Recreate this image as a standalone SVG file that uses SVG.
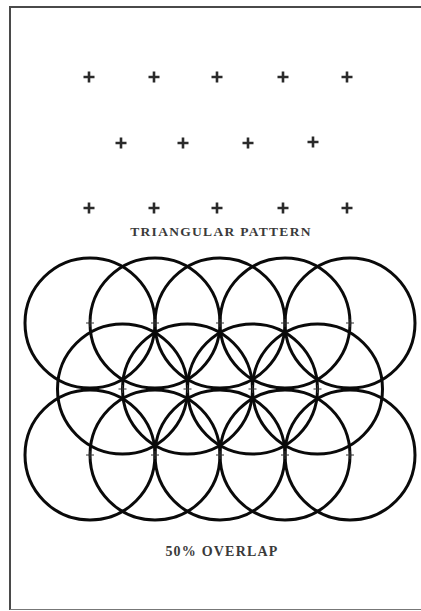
<svg xmlns="http://www.w3.org/2000/svg" width="421" height="611" viewBox="0 0 421 611">
<defs>
<style>
.frame{fill:none;stroke:#4a4a4a;stroke-width:2}
.plus{stroke:#2a2a2a;stroke-width:2.6;fill:none}
.mark{stroke:#333;stroke-width:1;fill:none}
.ring{fill:none;stroke:#0a0a0a;stroke-width:3}
.lbl{font-family:"Liberation Serif","Times New Roman",serif;font-weight:bold;fill:#3a3a3a;text-anchor:middle}
</style>
<path id="p" d="M-5.5 0H5.5M0 -5.5V5.5"/>
<path id="m" d="M-4 0H4M0 -4V4"/>
</defs>
<rect width="421" height="611" fill="#fff"/>
<g id="frame">
<path class="frame" d="M10 610V7H421"/>
<path d="M10 609.5H421" stroke="#777" stroke-width="1.2" fill="none"/>
</g>
<g id="triangular-pattern" class="plus">
<use href="#p" x="89" y="77"/><use href="#p" x="154" y="77"/><use href="#p" x="217" y="77"/><use href="#p" x="283" y="77"/><use href="#p" x="347" y="77"/>
<use href="#p" x="121" y="143"/><use href="#p" x="183" y="143"/><use href="#p" x="248" y="143"/><use href="#p" x="313" y="142"/>
<use href="#p" x="89" y="208"/><use href="#p" x="154" y="208"/><use href="#p" x="217" y="208"/><use href="#p" x="283" y="208"/><use href="#p" x="347" y="208"/>
</g>
<text id="label-triangular" class="lbl" x="221" y="236" font-size="13.5" letter-spacing="1.3">TRIANGULAR PATTERN</text>
<g id="overlap-circles" class="ring">
<circle cx="90" cy="323" r="65"/><circle cx="155" cy="323" r="65"/><circle cx="220" cy="323" r="65"/><circle cx="285" cy="323" r="65"/><circle cx="350" cy="323" r="65"/>
<circle cx="122.5" cy="389" r="65"/><circle cx="187.5" cy="389" r="65"/><circle cx="252.5" cy="389" r="65"/><circle cx="317.5" cy="389" r="65"/>
<circle cx="90" cy="455" r="65"/><circle cx="155" cy="455" r="65"/><circle cx="220" cy="455" r="65"/><circle cx="285" cy="455" r="65"/><circle cx="350" cy="455" r="65"/>
</g>
<g id="centre-marks" class="mark">
<use href="#m" x="90" y="323"/><use href="#m" x="155" y="323"/><use href="#m" x="220" y="323"/><use href="#m" x="285" y="323"/><use href="#m" x="350" y="323"/>
<use href="#m" x="122.5" y="389"/><use href="#m" x="187.5" y="389"/><use href="#m" x="252.5" y="389"/><use href="#m" x="317.5" y="389"/>
<use href="#m" x="90" y="455"/><use href="#m" x="155" y="455"/><use href="#m" x="220" y="455"/><use href="#m" x="285" y="455"/><use href="#m" x="350" y="455"/>
</g>
<text id="label-overlap" class="lbl" x="222" y="556" font-size="14" letter-spacing="1.2">50% OVERLAP</text>
</svg>
